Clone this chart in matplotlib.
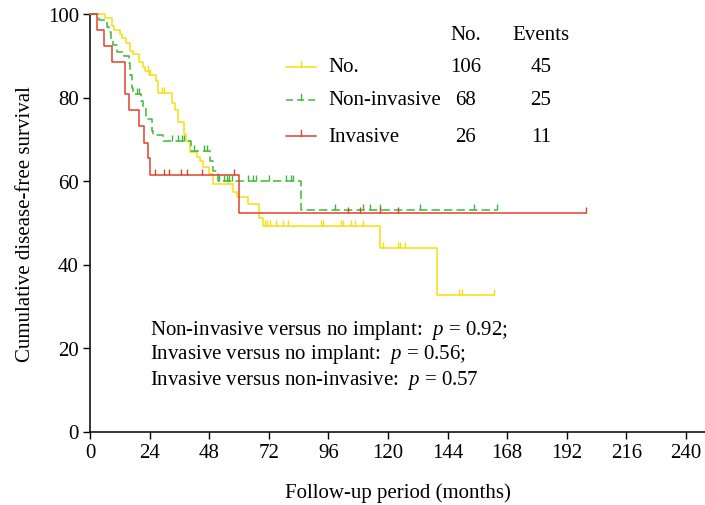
import matplotlib
matplotlib.use("Agg")
import matplotlib.pyplot as plt
import numpy as np

plt.rcParams['font.family'] = ['Liberation Serif', 'DejaVu Serif']
plt.rcParams['mathtext.fontset'] = 'custom'
plt.rcParams['mathtext.rm'] = 'Liberation Serif'
plt.rcParams['mathtext.it'] = 'Liberation Serif:italic'
plt.rcParams['lines.scale_dashes'] = False

# ---------------- data ----------------
group_names = ["No.", "Non-invasive", "Invasive"]
group_n = [106, 68, 26]
group_events = [45, 25, 11]

no_times = [6.0, 8.7, 9.8, 12.0, 13.0, 14.4, 16.0, 17.2, 19.9, 21.2, 22.2, 23.8,
            26.6, 27.5, 32.9, 34.2, 35.6, 37.9, 38.7, 40.3, 43.0, 44.3, 45.6,
            47.9, 49.5, 57.4, 59.4, 63.8, 67.9, 69.5, 116.9, 139.8]
no_surv = [99.1, 97.2, 96.2, 95.2, 94.2, 93.0, 91.2, 90.3, 88.4, 87.4, 86.4, 85.4,
           84.0, 81.0, 78.6, 77.0, 74.1, 71.3, 69.7, 66.9, 65.7, 64.9, 63.3,
           61.7, 59.3, 57.4, 56.1, 54.5, 51.1, 49.2, 43.9, 32.8]
no_cens = [23.5, 24.2, 28.9, 29.8, 55.7, 70.6, 71.4, 72.5, 74.9, 77.9, 79.6, 92.9,
           93.7, 101.0, 102.0, 105.0, 106.7, 109.8, 117.9, 123.9, 124.8, 126.9,
           148.8, 149.7, 162.7]
no_end = 162.7

non_times = [3.5, 7.0, 7.8, 8.6, 9.3, 11.0, 13.5, 15.7, 16.2, 16.8, 17.2, 20.5,
             21.2, 22.5, 24.8, 25.5, 29.5, 40.7, 48.3, 49.7, 51.4, 84.8]
non_surv = [98.5, 97.0, 95.6, 94.1, 92.6, 91.0, 89.9, 88.2, 85.3, 82.3, 80.8, 79.2,
            77.2, 74.8, 72.0, 71.0, 69.7, 67.3, 64.9, 62.5, 60.0, 53.1]
non_cens = [18.8, 19.7, 33.2, 35.6, 36.9, 38.0, 41.9, 45.9, 47.3, 52.1, 54.0, 55.1,
            56.1, 57.1, 63.8, 65.8, 66.9, 72.2, 78.8, 80.8, 81.6, 98.7, 109.8,
            112.8, 116.8, 132.9, 154.7, 163.8]
non_end = 163.8

inv_times = [2.9, 5.8, 8.7, 14.0, 15.6, 19.7, 21.9, 23.2, 24.0, 59.9]
inv_surv = [96.2, 92.3, 88.5, 80.8, 76.9, 73.1, 69.2, 65.4, 61.5, 52.3]
inv_cens = [26.0, 29.8, 31.8, 36.8, 38.9, 45.0, 58.0, 103.8, 108.9, 116.8, 123.9, 199.8]
inv_end = 199.8

x_ticks = [0, 24, 48, 72, 96, 120, 144, 168, 192, 216, 240]
y_ticks = [0, 20, 40, 60, 80, 100]

p_texts = [("Non-invasive versus no implant:", "0.92;"),
           ("Invasive versus no implant:", "0.56;"),
           ("Invasive versus non-invasive:", "0.57")]

# ---------------- style ----------------
FS = 15
YEL = '#f5df0e'
GRN = '#3db83a'
RED = '#e2412f'
colors = [YEL, GRN, RED]
dashes = [None, (6.0, 3.0), None]

W, H = 705, 506
fig = plt.figure(figsize=(W / 100, H / 100), dpi=100)
ax = fig.add_axes([90 / W, (H - 432.5) / H, (W - 90) / W, (432.5 - 15) / H])


def step_xy(times, surv, end):
    t = np.concatenate([[0.0], times, [end]])
    s = np.concatenate([[100.0], surv, [surv[-1]]])
    return t, s


def surv_at(times, surv, x):
    idx = np.searchsorted(np.asarray(times), x, side='right') - 1
    vals = np.where(idx >= 0, np.asarray(surv)[np.clip(idx, 0, None)], 100.0)
    return vals


series = [(no_times, no_surv, no_cens, no_end),
          (non_times, non_surv, non_cens, non_end),
          (inv_times, inv_surv, inv_cens, inv_end)]

zorders = [3, 4, 5]
for (tt, ss, cc, ee), col, dsh, z in zip(series, colors, dashes, zorders):
    t, s = step_xy(tt, ss, ee)
    ln, = ax.step(t, s, where='post', color=col, lw=1.1, clip_on=False, zorder=z)
    if dsh is not None:
        ln.set_dashes(dsh)
    cy = surv_at(tt, ss, np.asarray(cc))
    ax.plot(cc, cy, linestyle='none', marker=2, markersize=4.5,
            markeredgewidth=1.0, color=col, clip_on=False, zorder=z)

ax.set_xlim(0, 247.7)
ax.set_ylim(0, 100)
ax.set_xticks(x_ticks)
ax.set_yticks(y_ticks)
ax.tick_params(direction='out', length=5, width=1.0, labelsize=FS, colors='black', pad=3)
for side in ['top', 'right']:
    ax.spines[side].set_visible(False)
for side in ['left', 'bottom']:
    ax.spines[side].set_linewidth(1.1)

ax.set_xlabel("Follow-up period (months)", fontsize=FS, labelpad=15)
ax.set_ylabel("Cumulative disease-free survival", fontsize=FS, labelpad=9)

# legend / table
def fx(px):
    return px / W


def fy(py):
    return 1 - py / H


fig.text(fx(466), fy(36), "No.", fontsize=FS, ha='center', va='center')
fig.text(fx(541), fy(36), "Events", fontsize=FS, ha='center', va='center')
rows_y = [68, 101, 137]
for name, n, ev, col, dsh, y in zip(group_names, group_n, group_events, colors, dashes, rows_y):
    ln = matplotlib.lines.Line2D([fx(286), fx(316)], [fy(y), fy(y)], color=col, lw=1.1,
                                 transform=fig.transFigure)
    if dsh is not None:
        ln.set_dashes((5.0, 3.0))
    fig.add_artist(ln)
    tk = matplotlib.lines.Line2D([fx(301), fx(301)], [fy(y), fy(y - 6)], color=col, lw=1.0,
                                 transform=fig.transFigure)
    fig.add_artist(tk)
    fig.text(fx(328), fy(y), name, fontsize=FS, ha='left', va='center')
    fig.text(fx(466), fy(y), str(n), fontsize=FS, ha='center', va='center')
    fig.text(fx(541), fy(y), str(ev), fontsize=FS, ha='center', va='center')

for (lbl, pv), y in zip(p_texts, [330, 355, 381]):
    fig.text(fx(150), fy(y), lbl + "  $p$ = " + pv, fontsize=FS, ha='left', va='center')

fig.savefig("out.png", dpi=100)
